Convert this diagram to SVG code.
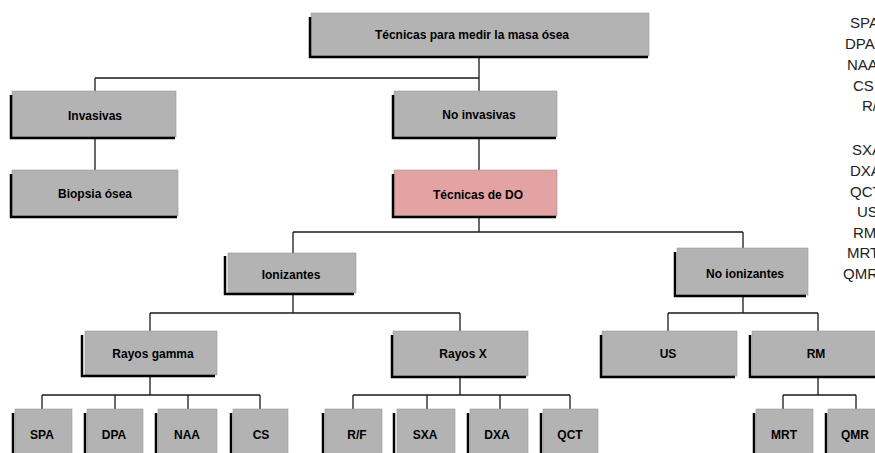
<svg xmlns="http://www.w3.org/2000/svg" width="875" height="453" viewBox="0 0 875 453">
<style>
.b{fill:#b3b3b3;stroke:#9a9a9a;stroke-width:0.6}
.p{fill:#e3a3a3;stroke:#9a9a9a;stroke-width:0.6}
.s{fill:none;stroke:#000;stroke-width:2.5}
.t{font-family:"Liberation Sans",Arial,sans-serif;font-weight:bold;font-size:12px;fill:#000;text-anchor:middle}
.c{fill:none;stroke:#1a1a1a;stroke-width:1.3}
.r{font-family:"Liberation Sans",Arial,sans-serif;font-size:15px;fill:#222}
</style>
<rect width="875" height="453" fill="#fff"/>
<g id="connectors">
<path class="c" d="M479 56V91M95 78H479M95 78V91M95 138V170M479 138V170"/>
<path class="c" d="M479 216V232M293 232H743M293 232V253M743 232V248"/>
<path class="c" d="M293 294V313M150 313H460M150 313V331M460 313V331"/>
<path class="c" d="M743 296V313M668 313H818M668 313V331M818 313V331"/>
<path class="c" d="M150 376V395M42 395H260M42 395V409M115 395V409M188 395V409M260 395V409"/>
<path class="c" d="M460 376V395M353 395H570M353 395V409M427 395V409M500 395V409M570 395V409"/>
<path class="c" d="M818 376V395M783 395H856M783 395V409M856 395V409"/>
</g>
<g id="n-top"><rect class="b" x="311" y="13" width="338" height="43"/><path class="s" d="M310 17V57H648"/><text class="t" x="472" y="39">Técnicas para medir la masa ósea</text></g>
<g id="n-invasivas"><rect class="b" x="12" y="91" width="164" height="46"/><path class="s" d="M11 95V138H175"/><text class="t" x="95" y="120">Invasivas</text></g>
<g id="n-biopsia"><rect class="b" x="12" y="170" width="166" height="46"/><path class="s" d="M11 174V217H177"/><text class="t" x="95" y="198">Biopsia ósea</text></g>
<g id="n-noinvasivas"><rect class="b" x="394" y="91" width="163" height="46"/><path class="s" d="M393 95V138H556"/><text class="t" x="479" y="119">No invasivas</text></g>
<g id="n-do"><rect class="p" x="394" y="170" width="163" height="46"/><path class="s" d="M393 174V217H556"/><text class="t" x="478" y="199">Técnicas de DO</text></g>
<g id="n-ionizantes"><rect class="b" x="228" y="253" width="128" height="40"/><path class="s" d="M225 256V294H354"/><text class="t" x="291" y="279">Ionizantes</text></g>
<g id="n-noionizantes"><rect class="b" x="677" y="248" width="131" height="47"/><path class="s" d="M675 252V296H806"/><text class="t" x="745" y="278">No ionizantes</text></g>
<g id="n-gamma"><rect class="b" x="85" y="331" width="132" height="44"/><path class="s" d="M82 335V376H215"/><text class="t" x="153" y="358">Rayos gamma</text></g>
<g id="n-rayosx"><rect class="b" x="393" y="331" width="135" height="45"/><path class="s" d="M392 335V377H526"/><text class="t" x="463" y="358">Rayos X</text></g>
<g id="n-us"><rect class="b" x="602" y="331" width="135" height="45"/><path class="s" d="M601 335V377H735"/><text class="t" x="668" y="358">US</text></g>
<g id="n-rm"><rect class="b" x="752" y="331" width="135" height="45"/><path class="s" d="M750 335V377H885"/><text class="t" x="816" y="358">RM</text></g>
<g id="n-spa"><rect class="b" x="15" y="409" width="57" height="50"/><path class="s" d="M13 413V460"/><text class="t" x="42" y="439">SPA</text></g>
<g id="n-dpa"><rect class="b" x="87" y="409" width="56" height="50"/><path class="s" d="M85 413V460"/><text class="t" x="114" y="439">DPA</text></g>
<g id="n-naa"><rect class="b" x="158" y="409" width="59" height="50"/><path class="s" d="M156 413V460"/><text class="t" x="187" y="439">NAA</text></g>
<g id="n-cs"><rect class="b" x="233" y="409" width="55" height="50"/><path class="s" d="M231 413V460"/><text class="t" x="261" y="439">CS</text></g>
<g id="n-rf"><rect class="b" x="325" y="409" width="57" height="50"/><path class="s" d="M323 413V460"/><text class="t" x="357" y="439">R/F</text></g>
<g id="n-sxa"><rect class="b" x="397" y="409" width="58" height="50"/><path class="s" d="M394 413V460"/><text class="t" x="425" y="439">SXA</text></g>
<g id="n-dxa"><rect class="b" x="470" y="409" width="58" height="50"/><path class="s" d="M468 413V460"/><text class="t" x="497" y="439">DXA</text></g>
<g id="n-qct"><rect class="b" x="543" y="409" width="55" height="50"/><path class="s" d="M541 413V460"/><text class="t" x="570" y="439">QCT</text></g>
<g id="n-mrt"><rect class="b" x="756" y="409" width="57" height="50"/><path class="s" d="M754 413V460"/><text class="t" x="784" y="439">MRT</text></g>
<g id="n-qmr"><rect class="b" x="828" y="409" width="57" height="50"/><path class="s" d="M826 413V460"/><text class="t" x="855" y="439">QMR</text></g>
<g id="legend" class="r">
<text x="850" y="28">SPA</text>
<text x="845" y="49">DPA</text>
<text x="847" y="70">NAA</text>
<text x="853" y="91">CS</text>
<text x="862" y="111">R/F</text>
<text x="852" y="155">SXA</text>
<text x="850" y="176">DXA</text>
<text x="850" y="197">QCT</text>
<text x="857" y="217">US</text>
<text x="853" y="238">RM</text>
<text x="847" y="258">MRT</text>
<text x="843" y="279">QMR</text>
</g>
</svg>
